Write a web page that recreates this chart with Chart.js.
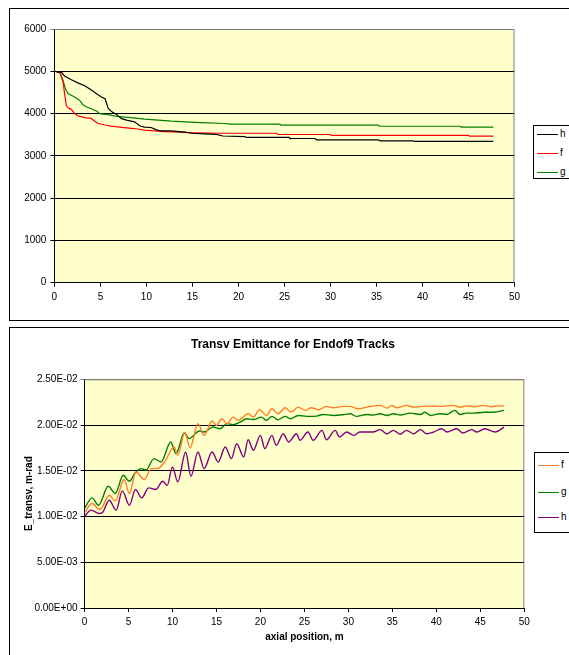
<!DOCTYPE html>
<html>
<head>
<meta charset="utf-8">
<script src="https://cdn.jsdelivr.net/npm/chart.js@4.4.1/dist/chart.umd.min.js"></script>
<style>
  html, body { margin:0; padding:0; background:#fff; overflow:hidden; width:569px; height:655px; }
  body { position:relative; font-family:"Liberation Sans", Arial, sans-serif; }
  .frame { position:absolute; border:1px solid #000; background:#fff; }
  canvas { position:absolute; }
  .legend { position:absolute; border:1px solid #000; background:#fff; width:60px; }
  .legend .item { position:absolute; left:0; height:12px; font-size:10px; line-height:12px; color:#000; }
  .legend .swatch { position:absolute; left:0; top:6px; width:21px; height:0; border-top:1.5px solid #000; }
  .legend .txt { position:absolute; left:23px; top:0; }
</style>
</head>
<body>
<div class="frame" style="left:9px;top:8px;width:620px;height:311px"></div>
<div class="frame" style="left:9px;top:327px;width:620px;height:400px"></div>
<canvas id="top" width="566" height="310" style="left:10px;top:9px"></canvas>
<canvas id="bottom" width="566" height="327" style="left:10px;top:328px"></canvas>
<div class="legend" id="legTop" style="left:533px;top:125px;height:52px"></div>
<div class="legend" id="legBottom" style="left:534px;top:452px;height:79px"></div>
<script>
// ---- top chart: three descending curves ----
const hX = [0, 0.8, 1.1, 1.85, 2.6, 3.3, 3.85, 4.4, 5.1, 5.5, 5.85, 6.2, 6.75, 7.3, 7.85, 8.7, 9.3, 9.8, 10.5, 11.1, 11.5, 12.7, 14.2, 14.9, 16.3, 17.6, 18.3, 20.7, 20.9, 25.5, 25.6, 28.3, 28.5, 35.2, 35.4, 39.0, 39.2, 47.7]
const hY = [5000, 4970, 4890, 4800, 4720, 4660, 4580, 4500, 4390, 4350, 4120, 4050, 3980, 3880, 3845, 3805, 3705, 3680, 3670, 3615, 3590, 3590, 3560, 3535, 3520, 3508, 3470, 3455, 3435, 3435, 3410, 3410, 3380, 3380, 3355, 3355, 3340, 3340]
const fX = [0, 0.6, 0.95, 1.13, 1.3, 1.5, 1.85, 2.2, 2.6, 3.3, 4.0, 4.4, 4.75, 5.5, 6.2, 7.3, 8.4, 9.1, 9.8, 10.9, 12.0, 13.5, 15.3, 17.8, 24.1, 24.3, 30.0, 30.1, 45.0, 45.1, 47.7]
const fY = [5000, 4970, 4740, 4430, 4190, 4130, 4100, 4000, 3945, 3905, 3885, 3820, 3765, 3730, 3705, 3675, 3650, 3635, 3610, 3590, 3575, 3560, 3545, 3535, 3535, 3505, 3505, 3485, 3485, 3465, 3465]
const gX = [0, 0.6, 0.95, 1.2, 1.5, 2.2, 2.75, 3.1, 3.5, 4.0, 4.6, 4.9, 5.85, 6.6, 7.65, 8.6, 9.8, 11.3, 12.7, 14.2, 16.0, 18.5, 19.1, 24.5, 24.6, 35.2, 35.3, 44.1, 44.2, 47.7]
const gY = [5000, 4970, 4775, 4580, 4465, 4390, 4310, 4210, 4155, 4115, 4055, 4000, 3975, 3940, 3915, 3900, 3870, 3845, 3820, 3805, 3785, 3765, 3750, 3750, 3725, 3725, 3700, 3700, 3680, 3680]
const topYTicks = ['0', '1000', '2000', '3000', '4000', '5000', '6000']

// ---- bottom chart: Transv Emittance ----
const efX = [0, 0.85, 1.76, 2.82, 3.5, 4.5, 5.1, 5.85, 6.8, 7.6, 8.3, 9.1, 10.2, 10.6, 11.4, 12.0, 12.9, 13.6, 14.5, 15.0, 15.6, 16.2, 16.9, 17.5, 18.6, 19.2, 19.9, 20.7, 21.3, 22.0, 22.8, 23.5, 24.3, 25.1, 25.8, 26.6, 27.5, 28.3, 29.4, 30.2, 31.1, 32.1, 33.6, 34.4, 34.9, 35.5, 36.6, 37.4, 38.9, 40.4, 41.9, 42.7, 43.4, 44.3, 45.3, 46.3, 47.0, 47.7]
const efY = [0.01040, 0.01142, 0.01076, 0.01233, 0.01171, 0.01404, 0.01251, 0.01487, 0.01404, 0.01524, 0.01524, 0.01596, 0.01760, 0.01669, 0.01920, 0.01750, 0.02015, 0.01887, 0.02044, 0.01996, 0.02069, 0.02015, 0.02087, 0.02051, 0.02124, 0.02087, 0.02167, 0.02105, 0.02178, 0.02124, 0.02189, 0.02142, 0.02196, 0.02160, 0.02189, 0.02167, 0.02204, 0.02189, 0.02204, 0.02204, 0.02178, 0.02196, 0.02215, 0.02185, 0.02215, 0.02189, 0.02215, 0.02196, 0.02207, 0.02204, 0.02215, 0.02196, 0.02210, 0.02200, 0.02215, 0.02200, 0.02210, 0.02210]
const egX = [0, 0.85, 1.6, 2.7, 3.5, 4.4, 5.1, 5.7, 6.4, 7.0, 7.9, 8.7, 9.8, 10.4, 11.35, 11.9, 13.05, 13.6, 14.6, 15.4, 16.2, 16.9, 17.7, 18.4, 19.2, 20.1, 20.7, 21.3, 22.0, 22.8, 23.4, 24.3, 25.3, 26.4, 27.1, 28.3, 29.6, 30.2, 30.9, 32.1, 32.8, 33.6, 34.4, 35.1, 35.9, 37.0, 38.2, 38.7, 39.3, 40.4, 41.2, 42.1, 42.7, 43.4, 44.2, 45.5, 46.5, 47.7]
const egY = [0.01087, 0.01204, 0.01124, 0.01331, 0.01251, 0.01451, 0.01385, 0.01469, 0.01524, 0.01510, 0.01633, 0.01596, 0.01815, 0.01687, 0.01916, 0.01851, 0.01935, 0.01924, 0.01978, 0.01960, 0.02015, 0.02004, 0.02033, 0.02069, 0.02060, 0.02087, 0.02051, 0.02095, 0.02058, 0.02095, 0.02069, 0.02105, 0.02095, 0.02098, 0.02116, 0.02105, 0.02116, 0.02124, 0.02095, 0.02116, 0.02108, 0.02124, 0.02105, 0.02124, 0.02110, 0.02130, 0.02116, 0.02140, 0.02105, 0.02124, 0.02116, 0.02160, 0.02116, 0.02130, 0.02130, 0.02140, 0.02140, 0.02160]
const ehX = [0, 0.74, 1.7, 2.1, 2.8, 3.6, 4.3, 5.1, 5.8, 6.5, 7.3, 8.1, 8.9, 9.4, 10.0, 10.6, 11.5, 12.1, 12.9, 13.6, 14.5, 15.2, 16.0, 16.7, 17.3, 18.1, 18.6, 19.2, 20.0, 20.5, 21.3, 21.8, 22.6, 23.2, 24.1, 24.5, 25.4, 26.0, 27.0, 27.5, 28.5, 29.0, 29.8, 30.6, 31.3, 32.8, 33.6, 34.4, 35.1, 35.9, 36.6, 37.4, 38.2, 38.9, 39.7, 40.6, 41.2, 42.3, 43.0, 44.0, 44.6, 45.5, 46.7, 47.7]
const ehY = [0.01000, 0.01070, 0.01033, 0.01050, 0.01178, 0.01070, 0.01280, 0.01124, 0.01295, 0.01204, 0.01313, 0.01295, 0.01385, 0.01340, 0.01542, 0.01378, 0.01705, 0.01440, 0.01705, 0.01524, 0.01705, 0.01596, 0.01760, 0.01633, 0.01796, 0.01651, 0.01840, 0.01724, 0.01887, 0.01742, 0.01887, 0.01778, 0.01905, 0.01815, 0.01905, 0.01833, 0.01924, 0.01833, 0.01942, 0.01840, 0.01942, 0.01869, 0.01924, 0.01887, 0.01924, 0.01924, 0.01950, 0.01905, 0.01942, 0.01900, 0.01942, 0.01905, 0.01950, 0.01905, 0.01924, 0.01960, 0.01924, 0.01960, 0.01913, 0.01950, 0.01924, 0.01960, 0.01924, 0.01978]
const bottomYTicks = ['0.00E+00', '5.00E-03', '1.00E-02', '1.50E-02', '2.00E-02', '2.50E-02']
const xTicks = ['0', '5', '10', '15', '20', '25', '30', '35', '40', '45', '50']

const pts = (xs, ys) => xs.map((x, i) => ({x, y: ys[i]}))
const FONT = '"Liberation Sans", Arial, sans-serif'

// yellow plot area + grey frame on top / right
const plotArea = {
  id: 'plotArea',
  afterLayout(chart){
    // centre the title over the whole chart frame, not just the plot
    if(chart.titleBlock){ chart.titleBlock.left = 0; chart.titleBlock.right = chart.width }
  },
  beforeDraw(chart){
    const {ctx, chartArea: a} = chart
    ctx.save(); ctx.fillStyle = '#FFFFCC'; ctx.fillRect(a.left, a.top, a.width, a.height); ctx.restore()
  },
  afterDraw(chart){
    const {ctx, chartArea: a} = chart
    ctx.save(); ctx.strokeStyle = '#808080'; ctx.lineWidth = 1
    ctx.beginPath(); ctx.moveTo(a.left, a.top + 0.5); ctx.lineTo(a.right - 0.5, a.top + 0.5); ctx.lineTo(a.right - 0.5, a.bottom); ctx.stroke()
    ctx.restore()
  }
}

function axes(opts){
  return {
    x: {
      type: 'linear', min: 0, max: 50,
      afterFit: s => { s.height = opts.xH },
      grid: {drawOnChartArea: false, color: '#000', tickLength: 4},
      border: {color: '#000'},
      ticks: {stepSize: 5, color: '#000', padding: opts.xPad, font: {family: FONT, size: 10}, maxRotation: 0,
        callback: (v, i) => xTicks[i]},
      title: opts.xTitle
    },
    y: {
      min: 0, max: opts.yMax,
      afterFit: s => { s.width = opts.yW },
      grid: {color: c => (c.tick && c.tick.value >= opts.yMax) ? '#808080' : '#000', tickLength: 4},
      border: {color: '#000'},
      ticks: {stepSize: opts.yStep, color: '#000', padding: opts.yPad, font: {family: FONT, size: 10},
        callback: (v, i) => opts.yLabels[i]},
      title: opts.yTitle
    }
  }
}

function makeLegend(el, datasets, rows){
  datasets.forEach((d, i) => {
    const it = document.createElement('div'); it.className = 'item'
    it.style.top = rows[i] + 'px'; it.style.left = '3px'
    it.innerHTML = '<div class="swatch" style="border-top-color:' + d.borderColor + '"></div><div class="txt">' + d.label + '</div>'
    el.appendChild(it)
  })
}

const topSets = [
  {label: 'h', data: pts(hX, hY), borderColor: '#000000', borderWidth: 1.2, pointRadius: 0, tension: 0},
  {label: 'f', data: pts(fX, fY), borderColor: '#FF0000', borderWidth: 1.2, pointRadius: 0, tension: 0},
  {label: 'g', data: pts(gX, gY), borderColor: '#008000', borderWidth: 1.2, pointRadius: 0, tension: 0}
]
new Chart(document.getElementById('top'), {
  type: 'line',
  data: {datasets: topSets},
  options: {
    responsive: false, animation: false,
    layout: {padding: {top: 20, right: 61.5, left: 0, bottom: 0}},
    plugins: {legend: {display: false}, tooltip: {enabled: false}},
    scales: axes({xH: 36.3, xPad: 5, yW: 44.4, yPad: 4, yMax: 6000, yStep: 1000, yLabels: topYTicks})
  },
  plugins: [plotArea]
})
makeLegend(document.getElementById('legTop'), topSets, [2, 21, 40])

const bottomSets = [
  {label: 'f', data: pts(efX, efY), borderColor: '#FF7F27', borderWidth: 1.4, pointRadius: 0, cubicInterpolationMode: 'monotone'},
  {label: 'g', data: pts(egX, egY), borderColor: '#008000', borderWidth: 1.4, pointRadius: 0, cubicInterpolationMode: 'monotone'},
  {label: 'h', data: pts(ehX, ehY), borderColor: '#800080', borderWidth: 1.4, pointRadius: 0, cubicInterpolationMode: 'monotone'}
]
new Chart(document.getElementById('bottom'), {
  type: 'line',
  data: {datasets: bottomSets},
  options: {
    responsive: false, animation: false,
    layout: {padding: {top: 0, right: 51.7, left: 0, bottom: 0}},
    plugins: {
      legend: {display: false}, tooltip: {enabled: false},
      title: {display: true, text: 'Transv Emittance for Endof9 Tracks', color: '#000',
        font: {family: FONT, size: 12, weight: 'bold'}, padding: {top: 9, bottom: 27.9}}
    },
    scales: axes({xH: 47, xPad: 4, yW: 74.5, yPad: 3, yMax: 0.025, yStep: 0.005, yLabels: bottomYTicks,
      xTitle: {display: true, text: 'axial position, m', color: '#000', font: {family: FONT, size: 10, weight: 'bold'}, padding: {top: 0, bottom: 12}},
      yTitle: {display: true, text: 'E_transv, m-rad', color: '#000', font: {family: FONT, size: 10, weight: 'bold'}, padding: {top: 13, bottom: 0}}})
  },
  plugins: [plotArea]
})
makeLegend(document.getElementById('legBottom'), bottomSets, [6, 33, 58])
</script>
</body>
</html>
